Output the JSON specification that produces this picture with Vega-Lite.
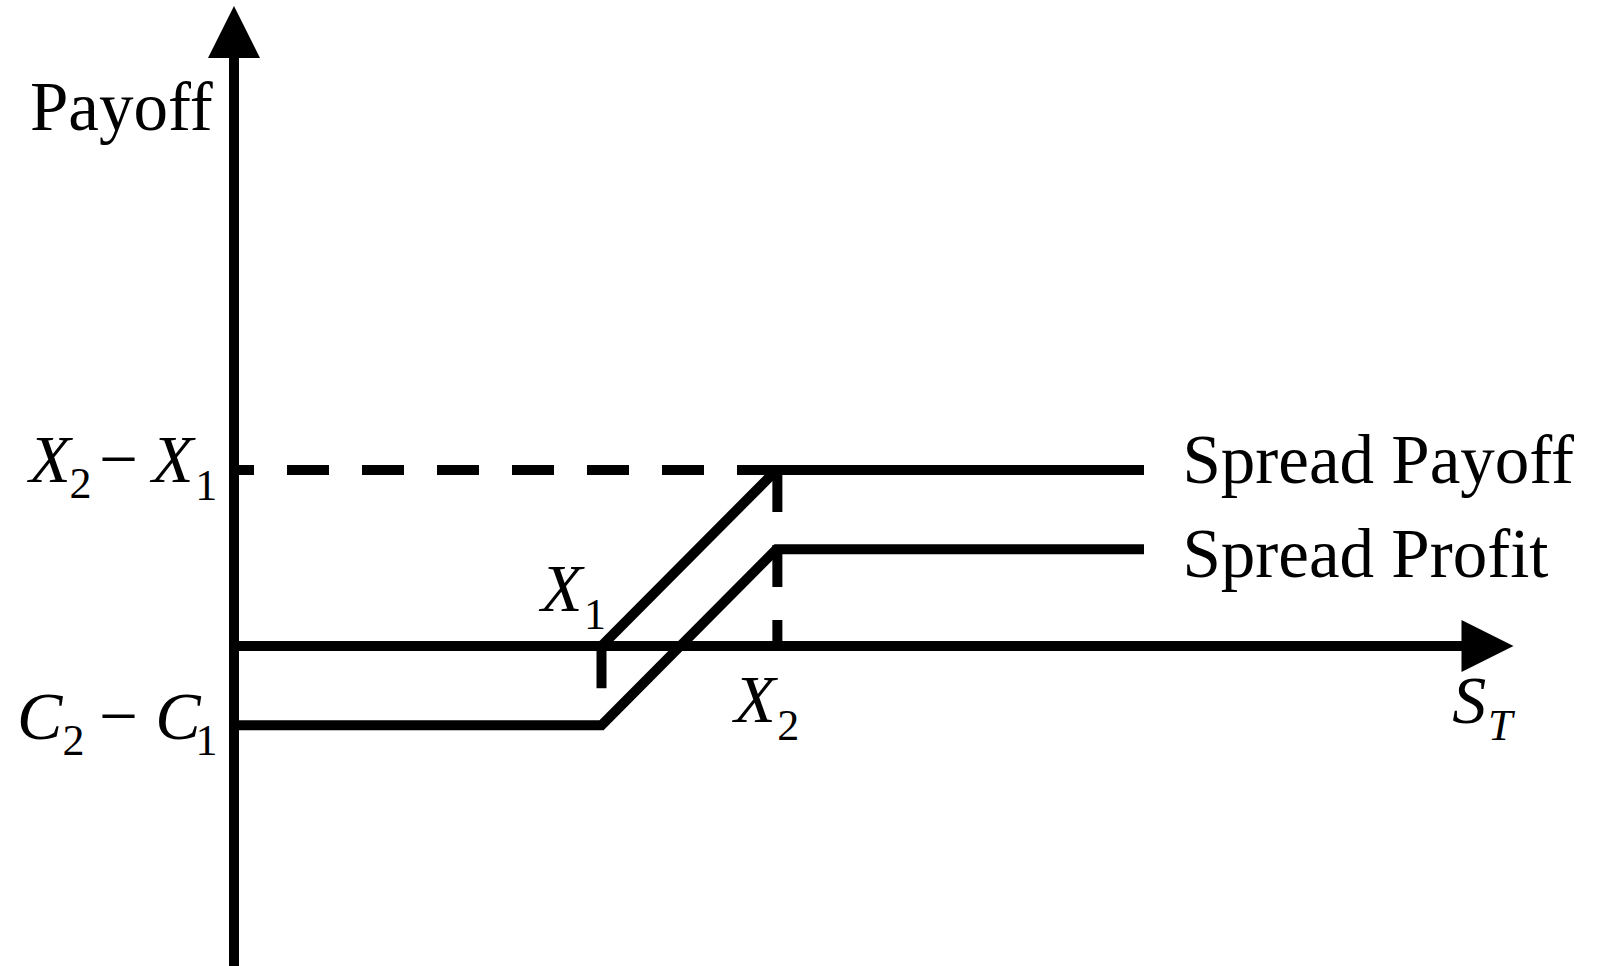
{
  "$schema": "https://vega.github.io/schema/vega-lite/v6.json",
  "width": 1598,
  "height": 966,
  "autosize": "none",
  "padding": 0,
  "background": "white",
  "config": {"view": {"stroke": null}},
  "datasets": {
    "rulesSolid": [
      {"x": 0, "y": -18.5, "x2": 0, "y2": 34},
      {"x": 0, "y": 0, "x2": 71, "y2": 0},
      {"x": 21, "y": 0, "x2": 21, "y2": -2.4}
    ],
    "rulesDashH": [{"x": 0, "y": 10, "x2": 31, "y2": 10}],
    "rulesDashV": [{"x": 31.05, "y": 10, "x2": 31.05, "y2": 0}],
    "lines": [
      {"series": "Spread Payoff", "ord": 1, "x": 0, "y": 0},
      {"series": "Spread Payoff", "ord": 2, "x": 21, "y": 0},
      {"series": "Spread Payoff", "ord": 3, "x": 31, "y": 10},
      {"series": "Spread Payoff", "ord": 4, "x": 52, "y": 10},
      {"series": "Spread Profit", "ord": 1, "x": 0, "y": -4.5},
      {"series": "Spread Profit", "ord": 2, "x": 21, "y": -4.5},
      {"series": "Spread Profit", "ord": 3, "x": 31, "y": 5.5},
      {"series": "Spread Profit", "ord": 4, "x": 52, "y": 5.5}
    ],
    "arrows": [
      {"dir": "up", "x": 0, "y": 34.89},
      {"dir": "right", "x": 71.63, "y": 0}
    ],
    "labels": [
      {"role": "plain", "text": "Payoff", "x": -11.66, "y": 29.32},
      {"role": "plain", "text": "Spread Payoff", "x": 54.2, "y": 9.26},
      {"role": "plain", "text": "Spread Profit", "x": 54.2, "y": 3.92},
      {"role": "plain", "text": "−", "x": -7.7, "y": 9.32},
      {"role": "plain", "text": "−", "x": -7.7, "y": -5.28},
      {"role": "italic", "text": "X", "x": -11.7, "y": 9.32},
      {"role": "italic", "text": "X", "x": -4.68, "y": 9.32},
      {"role": "italic", "text": "C", "x": -12.4, "y": -5.28},
      {"role": "italic", "text": "C", "x": -4.5, "y": -5.28},
      {"role": "italic", "text": "X", "x": 17.55, "y": 1.99},
      {"role": "italic", "text": "X", "x": 28.58, "y": -4.32},
      {"role": "italic", "text": "S", "x": 69.62, "y": -4.38},
      {"role": "sub", "text": "2", "x": -9.4, "y": 8.41},
      {"role": "sub", "text": "1", "x": -2.22, "y": 8.3},
      {"role": "sub", "text": "2", "x": -9.8, "y": -6.19},
      {"role": "sub", "text": "1", "x": -2.2, "y": -6.19},
      {"role": "sub", "text": "1", "x": 20.0, "y": 0.97},
      {"role": "sub", "text": "2", "x": 31.05, "y": -5.34},
      {"role": "subItalic", "text": "T", "x": 71.66, "y": -5.34}
    ]
  },
  "encoding": {
    "x": {"field": "x", "type": "quantitative", "axis": null,
          "scale": {"domain": [-13.3714, 77.9429], "nice": false, "zero": false}},
    "y": {"field": "y", "type": "quantitative", "axis": null,
          "scale": {"domain": [-18.1818, 36.7045], "nice": false, "zero": false}}
  },
  "layer": [
    {
      "data": {"name": "rulesSolid"},
      "mark": {"type": "rule", "color": "black", "strokeWidth": 10, "strokeCap": "butt"},
      "encoding": {"x2": {"field": "x2"}, "y2": {"field": "y2"}}
    },
    {
      "data": {"name": "rulesDashH"},
      "mark": {"type": "rule", "color": "black", "strokeWidth": 10, "strokeCap": "butt", "strokeDash": [42, 33], "strokeDashOffset": 22},
      "encoding": {"x2": {"field": "x2"}, "y2": {"field": "y2"}}
    },
    {
      "data": {"name": "rulesDashV"},
      "mark": {"type": "rule", "color": "black", "strokeWidth": 10, "strokeCap": "butt", "strokeDash": [42, 33], "strokeDashOffset": 0},
      "encoding": {"x2": {"field": "x2"}, "y2": {"field": "y2"}}
    },
    {
      "data": {"name": "lines"},
      "mark": {"type": "line", "color": "black", "strokeWidth": 10, "strokeCap": "butt", "strokeJoin": "miter"},
      "encoding": {
        "detail": {"field": "series", "type": "nominal"},
        "order": {"field": "ord", "type": "quantitative"}
      }
    },
    {
      "data": {"name": "arrows"},
      "mark": {"type": "point", "filled": true, "color": "black", "opacity": 1, "size": 2704, "strokeWidth": 0},
      "encoding": {
        "shape": {"field": "dir", "type": "nominal", "legend": null,
                  "scale": {"domain": ["up", "right"], "range": ["M-1,1L0,-1L1,1Z", "M-1,-1L1,0L-1,1Z"]}}
      }
    },
    {
      "data": {"name": "labels"},
      "transform": [{"filter": "datum.role === 'plain'"}],
      "mark": {"type": "text", "font": "Liberation Serif", "fontSize": 69, "align": "left", "baseline": "alphabetic", "color": "black"},
      "encoding": {"text": {"field": "text"}}
    },
    {
      "data": {"name": "labels"},
      "transform": [{"filter": "datum.role === 'italic'"}],
      "mark": {"type": "text", "font": "Liberation Serif", "fontStyle": "italic", "fontSize": 68, "align": "left", "baseline": "alphabetic", "color": "black"},
      "encoding": {"text": {"field": "text"}}
    },
    {
      "data": {"name": "labels"},
      "transform": [{"filter": "datum.role === 'sub'"}],
      "mark": {"type": "text", "font": "Liberation Serif", "fontSize": 44, "align": "left", "baseline": "alphabetic", "color": "black"},
      "encoding": {"text": {"field": "text"}}
    },
    {
      "data": {"name": "labels"},
      "transform": [{"filter": "datum.role === 'subItalic'"}],
      "mark": {"type": "text", "font": "Liberation Serif", "fontStyle": "italic", "fontSize": 44, "align": "left", "baseline": "alphabetic", "color": "black"},
      "encoding": {"text": {"field": "text"}}
    }
  ]
}
